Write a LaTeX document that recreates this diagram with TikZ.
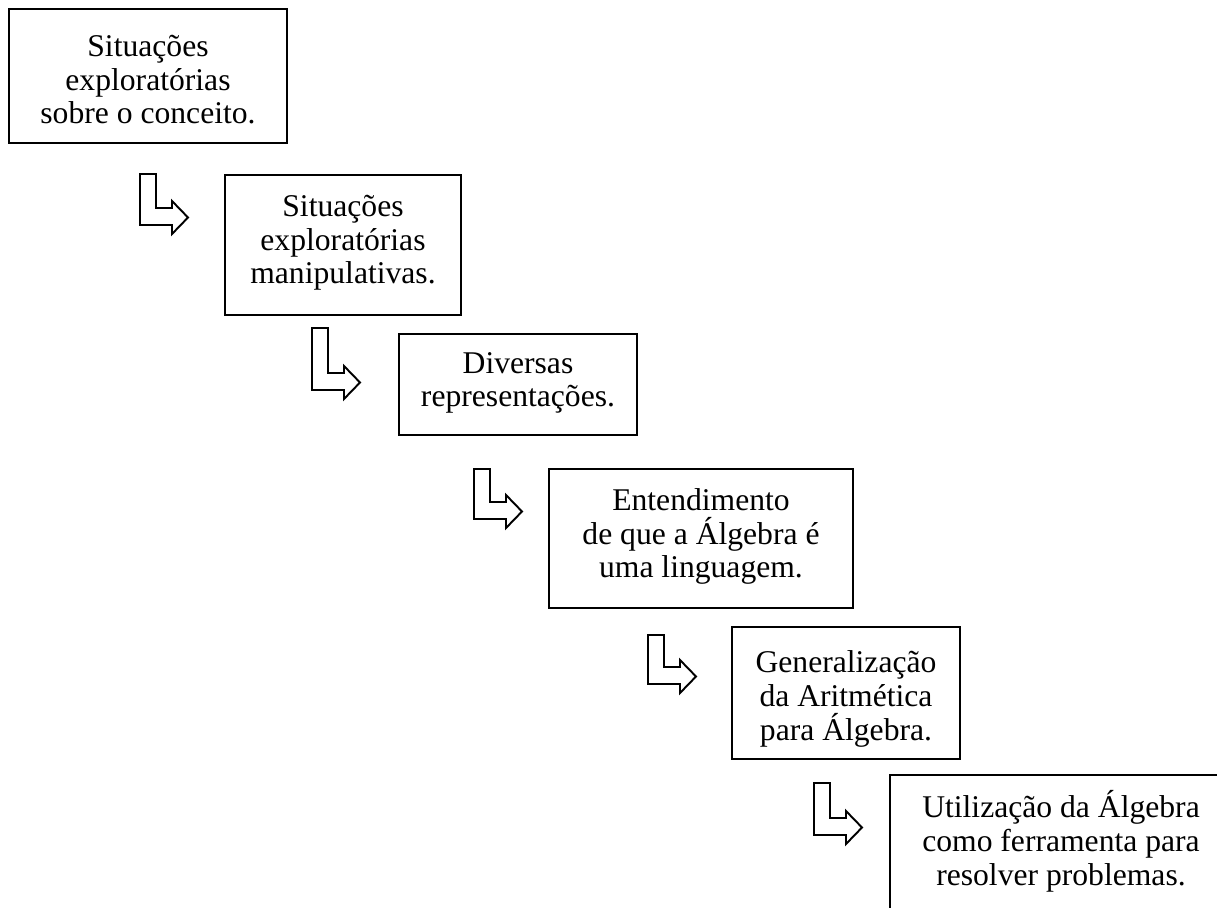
\documentclass[tikz,border=0pt]{standalone}
\usepackage{fontspec}
\setmainfont{Liberation Serif}
\usetikzlibrary{fit}
% outlined bent block arrow; the argument is its total height
\tikzset{
  bentarrow/.pic={
    \path[arrowline] (0,0) -- (16,0) -- (16,#1-26) -- (32,#1-26) -- (32,#1-33)
      -- (48,#1-16.5) -- (32,#1) -- (32,#1-9) -- (0,#1-9) -- cycle;
  }
}
\begin{document}
\begin{tikzpicture}[x=0.02cm, y=-0.02cm,
  box/.style={draw, line width=1.1pt, inner sep=0pt},
  % anchored at the baseline of the last line
  caption/.style={align=center, inner sep=0pt, anchor=base,
    font=\fontsize{18pt}{19.3pt}\selectfont},
  arrowline/.style={draw, line width=1.1pt, line join=miter}]
\useasboundingbox (0,0) rectangle (1217,908);
\fill[white] (0,0) rectangle (1217,908);
\clip (0,0) rectangle (1217,908);

% boxes
\node[box, fit={(9,9) (287,143)}] (b1) {};
\node[box, fit={(225,175) (461,315)}] (b2) {};
\node[box, fit={(399,334) (637,435)}] (b3) {};
\node[box, fit={(549,469) (853,608)}] (b4) {};
\node[box, fit={(732,627) (960,759)}] (b5) {};
\node[box, fit={(890,775) (1232,930)}] (b6) {};

% texts
\node[caption] (t1) at (148,124) {Situações\\exploratórias\\sobre o conceito.};
\node[caption] (t2) at (343,284) {Situações\\exploratórias\\manipulativas.};
\node[caption] (t3) at (518,407) {Diversas\\representações.};
\node[caption] (t4) at (701,578) {Entendimento\\de que a Álgebra é\\uma linguagem.};
\node[caption] (t5) at (846,740) {Generalização\\da Aritmética\\para Álgebra.};
\node[caption] (t6) at (1061,885) {Utilização da Álgebra\\como ferramenta para\\resolver problemas.};

% arrows between the steps
\pic (a1) at (140,174) {bentarrow=60};
\pic (a2) at (312,328) {bentarrow=71};
\pic (a3) at (474,469) {bentarrow=59};
\pic (a4) at (648,635) {bentarrow=58};
\pic (a5) at (814,783) {bentarrow=61};
\end{tikzpicture}
\end{document}
